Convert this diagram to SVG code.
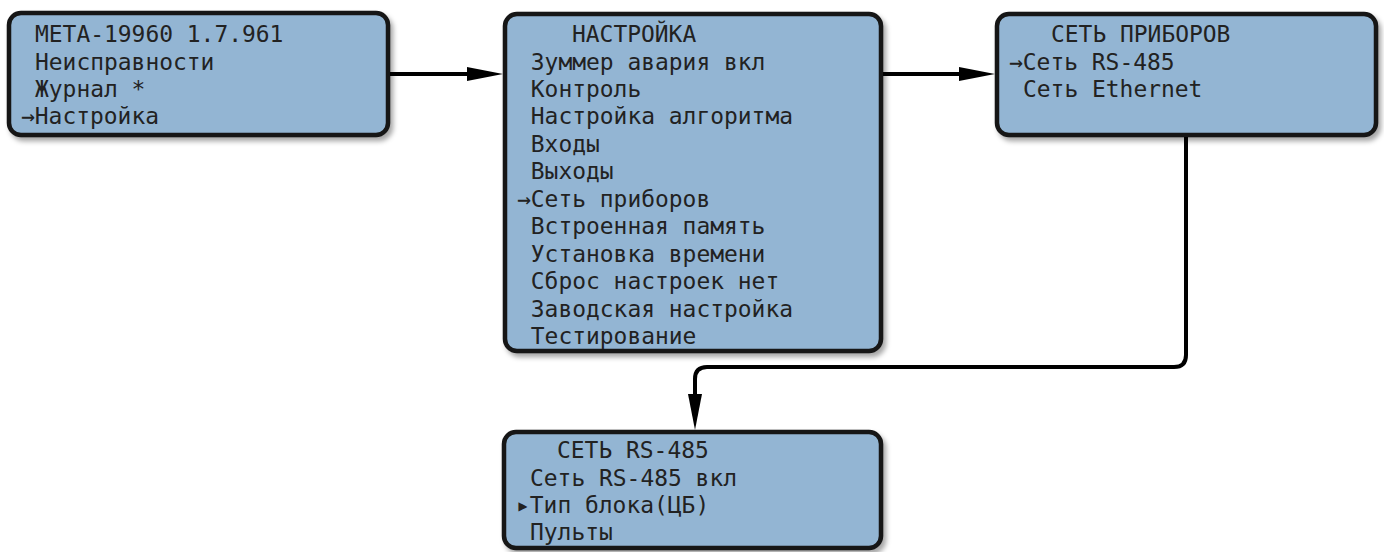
<svg xmlns="http://www.w3.org/2000/svg" width="1384" height="552" viewBox="0 0 1384 552">
<defs>
<style>
.box{fill:#93b5d3;stroke:#151515;stroke-width:4.5;filter:url(#sh)}
.t{font-family:"DejaVu Sans Mono","Liberation Mono",monospace;font-size:23.5px;fill:#222;}
.ln{fill:none;stroke:#000;stroke-width:4}
</style>
<filter id="sh" x="-5%" y="-10%" width="115%" height="130%">
<feDropShadow dx="3" dy="4" stdDeviation="2.5" flood-color="#000" flood-opacity="0.35"/>
</filter>
<marker id="ah" viewBox="0 0 36 14" markerWidth="36" markerHeight="14" refX="24" refY="7" orient="auto" markerUnits="userSpaceOnUse">
<path d="M0,0 L36,7 L0,14 z" fill="#000"/>
</marker>
</defs>
<rect width="1384" height="552" fill="#fff"/>

<g id="connectors">
<path class="ln" d="M390,74 H491" marker-end="url(#ah)"/>
<path class="ln" d="M883,74 H983" marker-end="url(#ah)"/>
<path class="ln" d="M1186,137 V355 Q1186,367 1174,367 H707 Q695,367 695,379 V418" marker-end="url(#ah)"/>
</g>

<g id="node-main">
<rect class="box" x="9" y="13" width="379" height="122" rx="12"/>
<text class="t" x="35" y="42" textLength="248.4" lengthAdjust="spacingAndGlyphs">МЕТА-19960 1.7.961</text>
<text class="t" x="35" y="69.5" textLength="179.4" lengthAdjust="spacingAndGlyphs">Неисправности</text>
<text class="t" x="35" y="96.9" textLength="110.4" lengthAdjust="spacingAndGlyphs">Журнал *</text>
<text class="t" x="21" y="124.4" textLength="138" lengthAdjust="spacingAndGlyphs">→Настройка</text>
</g>

<g id="node-settings">
<rect class="box" x="505" y="14" width="376" height="337" rx="12"/>
<text class="t" x="572" y="42" textLength="124.2" lengthAdjust="spacingAndGlyphs">НАСТРОЙКА</text>
<text class="t" x="530.8" y="69.5" textLength="234.6" lengthAdjust="spacingAndGlyphs">Зуммер авария вкл</text>
<text class="t" x="530.8" y="96.9" textLength="110.4" lengthAdjust="spacingAndGlyphs">Контроль</text>
<text class="t" x="530.8" y="124.4" textLength="262.2" lengthAdjust="spacingAndGlyphs">Настройка алгоритма</text>
<text class="t" x="530.8" y="151.8" textLength="69" lengthAdjust="spacingAndGlyphs">Входы</text>
<text class="t" x="530.8" y="179.3" textLength="82.8" lengthAdjust="spacingAndGlyphs">Выходы</text>
<text class="t" x="517" y="206.7" textLength="193.2" lengthAdjust="spacingAndGlyphs">→Сеть приборов</text>
<text class="t" x="530.8" y="234.2" textLength="234.6" lengthAdjust="spacingAndGlyphs">Встроенная память</text>
<text class="t" x="530.8" y="261.6" textLength="234.6" lengthAdjust="spacingAndGlyphs">Установка времени</text>
<text class="t" x="530.8" y="289.1" textLength="248.4" lengthAdjust="spacingAndGlyphs">Сброс настроек нет</text>
<text class="t" x="530.8" y="316.5" textLength="262.2" lengthAdjust="spacingAndGlyphs">Заводская настройка</text>
<text class="t" x="530.8" y="344" textLength="165.6" lengthAdjust="spacingAndGlyphs">Тестирование</text>
</g>

<g id="node-network">
<rect class="box" x="997" y="14" width="379" height="121" rx="12"/>
<text class="t" x="1051" y="42" textLength="179.4" lengthAdjust="spacingAndGlyphs">СЕТЬ ПРИБОРОВ</text>
<text class="t" x="1009" y="69.5" textLength="165.6" lengthAdjust="spacingAndGlyphs">→Сеть RS-485</text>
<text class="t" x="1023" y="96.9" textLength="179.4" lengthAdjust="spacingAndGlyphs">Сеть Ethernet</text>
</g>

<g id="node-rs485">
<rect class="box" x="504" y="432" width="377" height="116" rx="12"/>
<text class="t" x="557" y="458" textLength="151.8" lengthAdjust="spacingAndGlyphs">СЕТЬ RS-485</text>
<text class="t" x="530" y="485.5" textLength="207" lengthAdjust="spacingAndGlyphs">Сеть RS-485 вкл</text>
<text class="t" x="516" y="512.9" textLength="193.2" lengthAdjust="spacingAndGlyphs">▸Тип блока(ЦБ)</text>
<text class="t" x="530" y="540.4" textLength="82.8" lengthAdjust="spacingAndGlyphs">Пульты</text>
</g>
</svg>
